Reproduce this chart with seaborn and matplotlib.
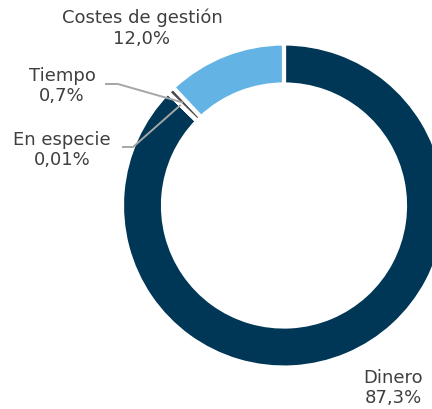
import numpy as np
import matplotlib
matplotlib.use("Agg")
import matplotlib.pyplot as plt
import seaborn as sns

# Distribution of contributions
categories = ["Dinero", "En especie", "Tiempo", "Costes de gestión"]
shares = [87.3, 0.01, 0.7, 12.0]
decimals = [1, 2, 1, 1]
colors = ["#003656", "#9a9a9a", "#4a4a4a", "#63b4e4"]

sns.set_theme(style="white")
plt.rcParams["font.family"] = ["DejaVu Sans"]

fig = plt.figure(figsize=(4.32, 4.09), dpi=100)
ax = fig.add_axes([0, 0, 1, 1])

ring = 0.253
wedges, _ = ax.pie(
    shares,
    colors=colors,
    startangle=90,
    counterclock=False,
    radius=1.0,
    wedgeprops=dict(width=ring, edgecolor="white", linewidth=3.0),
)

ax.set_aspect("auto")
ax.set_xlim(-1.753, 0.9136)
ax.set_ylim(-1.256, 1.2685)
ax.axis("off")


def fmt(v, d):
    return f"{v:.{d}f}".replace(".", ",") + "%"


text_pos = {
    "Dinero": (0.673, -1.1265),
    "En especie": (-1.370, 0.343),
    "Tiempo": (-1.370, 0.738),
    "Costes de gestión": (-0.8765, 1.0957),
}
leaders = {
    "Tiempo": [(-1.105, 0.750), (-1.025, 0.750)],
    "En especie": [(-1.000, 0.361), (-0.932, 0.361)],
}

txt_color = "#3f3f3f"
for w, name, v, d in zip(wedges, categories, shares, decimals):
    x, y = text_pos[name]
    ax.text(x, y, f"{name}\n{fmt(v, d)}", ha="center", va="center",
            fontsize=13, color=txt_color, linespacing=1.2)
    if name in leaders:
        mid = np.deg2rad((w.theta1 + w.theta2) / 2)
        r = 0.89
        pts = leaders[name] + [(r * np.cos(mid), r * np.sin(mid))]
        xs, ys = zip(*pts)
        ax.plot(xs, ys, color="#a6a6a6", lw=1.4, solid_capstyle="butt", zorder=5)

fig.savefig("out.png", dpi=100)
